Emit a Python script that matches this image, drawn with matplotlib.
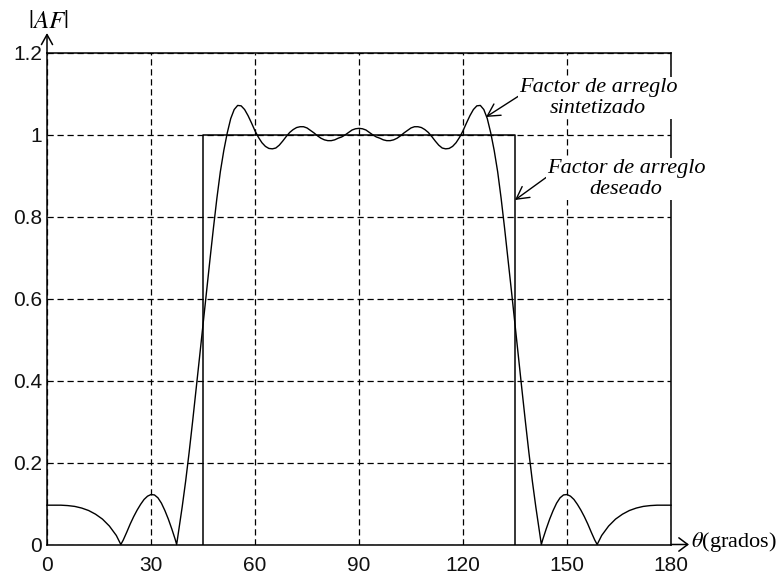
import matplotlib
matplotlib.use("Agg")
import matplotlib.pyplot as plt

# ---- data ----
theta_synth = [0, 2, 4, 6, 8, 10, 12, 14, 16, 18, 20, 21.3, 22, 23, 24, 25, 26, 27, 28, 29,
               30, 31, 32, 33, 34, 35, 36, 37, 37.4, 38, 39, 40, 41, 42, 43, 44, 45, 46, 47,
               48, 49, 50, 51, 52, 53, 54, 55, 56, 57, 58, 59, 60, 61, 62, 63, 64, 65, 66,
               67, 68, 69, 70, 71, 72, 73, 74, 75, 76, 77, 78, 79, 80, 81, 82, 83, 84, 85,
               86, 87, 88, 89, 90,
               91, 92, 93, 94, 95, 96, 97, 98, 99, 100, 101, 102, 103, 104, 105, 106, 107,
               108, 109, 110, 111, 112, 113, 114, 115, 116, 117, 118, 119, 120, 121, 122,
               123, 124, 125, 126, 127, 128, 129, 130, 131, 132, 133, 134, 135, 136, 137,
               138, 139, 140, 141, 142, 142.6, 143, 144, 145, 146, 147, 148, 149, 150, 151,
               152, 153, 154, 155, 156, 157, 158, 158.7, 160, 162, 164, 166, 168, 170, 172,
               174, 176, 178, 180]
af_synth = [0.096, 0.096, 0.096, 0.095, 0.093, 0.089, 0.083, 0.074, 0.062, 0.045, 0.022, 0.0,
            0.011, 0.030, 0.050, 0.068, 0.084, 0.098, 0.110, 0.118,
            0.122, 0.121, 0.114, 0.101, 0.083, 0.062, 0.038, 0.012, 0.0, 0.035, 0.092, 0.155,
            0.225, 0.300, 0.378, 0.457, 0.537, 0.617, 0.695,
            0.772, 0.845, 0.910, 0.962, 1.005, 1.040, 1.062, 1.072, 1.071, 1.062, 1.047, 1.029,
            1.010, 0.994, 0.981, 0.972, 0.967, 0.966, 0.968,
            0.975, 0.985, 0.996, 1.006, 1.013, 1.018, 1.020, 1.020, 1.017, 1.011, 1.005, 0.998,
            0.992, 0.988, 0.986, 0.986, 0.988, 0.992, 0.995,
            1.000, 1.006, 1.012, 1.015, 1.016,
            1.015, 1.012, 1.006, 1.000, 0.995, 0.992, 0.988, 0.986, 0.986, 0.988, 0.992, 0.998,
            1.005, 1.011, 1.017, 1.020, 1.020,
            1.018, 1.013, 1.006, 0.996, 0.985, 0.975, 0.968, 0.966, 0.967, 0.972, 0.981, 0.994,
            1.010, 1.029, 1.047,
            1.062, 1.071, 1.072, 1.062, 1.040, 1.005, 0.962, 0.910, 0.845, 0.772, 0.695, 0.617,
            0.537, 0.457, 0.378,
            0.300, 0.225, 0.155, 0.092, 0.035, 0.0, 0.012, 0.038, 0.062, 0.083, 0.101, 0.114,
            0.121, 0.122, 0.118,
            0.110, 0.098, 0.084, 0.068, 0.050, 0.030, 0.011, 0.0, 0.022, 0.045, 0.062, 0.074,
            0.083, 0.089, 0.093,
            0.095, 0.096, 0.096, 0.096]

theta_desired = [45, 45, 135, 135]
af_desired = [0, 1, 1, 0]

x_ticks = [0, 30, 60, 90, 120, 150, 180]
x_tick_labels = ["0", "30", "60", "90", "120", "150", "180"]
y_ticks = [0, 0.2, 0.4, 0.6, 0.8, 1.0, 1.2]
y_tick_labels = ["0", "0.2", "0.4", "0.6", "0.8", "1", "1.2"]

label_synth = "Factor de arreglo\nsintetizado"
label_desired = "Factor de arreglo\ndeseado"

# ---- figure ----
plt.rcParams["mathtext.fontset"] = "stix"
W, H = 778, 574
fig = plt.figure(figsize=(W / 100, H / 100), dpi=100)
L, R, T, B = 47, 671, 53, 544.5
ax = fig.add_axes([L / W, (H - B) / H, (R - L) / W, (B - T) / H])

ax.plot(theta_synth, af_synth, color="black", lw=1.0, zorder=3, clip_on=False)
ax.plot(theta_desired, af_desired, color="black", lw=1.1, zorder=3)

ax.set_xlim(0, 180)
ax.set_ylim(0, 1.2)
ax.set_xticks(x_ticks)
ax.set_xticklabels(x_tick_labels)
ax.set_yticks(y_ticks)
ax.set_yticklabels(y_tick_labels)
ax.tick_params(axis="both", length=0, labelsize=15, colors="#111111")
ax.tick_params(axis="x", pad=8)
ax.tick_params(axis="y", pad=3.5)
for lab in ax.get_xticklabels() + ax.get_yticklabels():
    lab.set_fontfamily("Liberation Sans")

ax.grid(True, color="black", lw=0.9, linestyle=(0, (5, 3)))
ax.set_axisbelow(True)
for s in ax.spines.values():
    s.set_linewidth(1.1)
    s.set_color("black")
    s.set_zorder(4)

# axis arrows
ax.annotate("", xy=(0, 1.2), xycoords="data", xytext=(0, 20), textcoords="offset pixels",
            arrowprops=dict(arrowstyle="<-,head_length=0.45,head_width=0.25", lw=1.1,
                            color="black", shrinkA=0, shrinkB=0, mutation_scale=16),
            annotation_clip=False)
ax.annotate("", xy=(180, 0), xycoords="data", xytext=(18, 0), textcoords="offset pixels",
            arrowprops=dict(arrowstyle="<-,head_length=0.4,head_width=0.3", lw=1.1,
                            color="black", shrinkA=0, shrinkB=0, mutation_scale=16),
            annotation_clip=False)

fig.text(48 / W, 1 - 21 / H, r"$|AF|$", ha="center", va="center", fontsize=18)
fig.text(691 / W, 1 - 542 / H, r"$\theta$(grados)", ha="left", va="center", fontsize=16,
         family="Liberation Serif")

def px_to_data(px, py):
    return (ax.transData.inverted().transform(
        fig.transFigure.transform((px / W, 1 - py / H))))

# annotations
tip1 = px_to_data(486, 117)
txt1 = px_to_data(598, 98)
ax.annotate(label_synth, xy=tip1, xytext=txt1, textcoords="data",
            ha="center", va="center", multialignment="center", fontsize=16,
            family="Liberation Serif", style="italic", linespacing=1.15,
            bbox=dict(facecolor="white", edgecolor="none", pad=0.5),
            arrowprops=dict(arrowstyle="->,head_length=0.55,head_width=0.3", lw=1.0,
                            color="black", shrinkA=0, shrinkB=0, mutation_scale=16,
                            relpos=(0.0, 0.55)),
            annotation_clip=False, zorder=5)
tip2 = px_to_data(515, 200)
txt2 = px_to_data(626, 179)
ax.annotate(label_desired, xy=tip2, xytext=txt2, textcoords="data",
            ha="center", va="center", multialignment="center", fontsize=16,
            family="Liberation Serif", style="italic", linespacing=1.15,
            bbox=dict(facecolor="white", edgecolor="none", pad=0.5),
            arrowprops=dict(arrowstyle="->,head_length=0.55,head_width=0.3", lw=1.0,
                            color="black", shrinkA=0, shrinkB=0, mutation_scale=16,
                            relpos=(0.0, 0.55)),
            annotation_clip=False, zorder=5)

fig.savefig("out.png", dpi=100)
